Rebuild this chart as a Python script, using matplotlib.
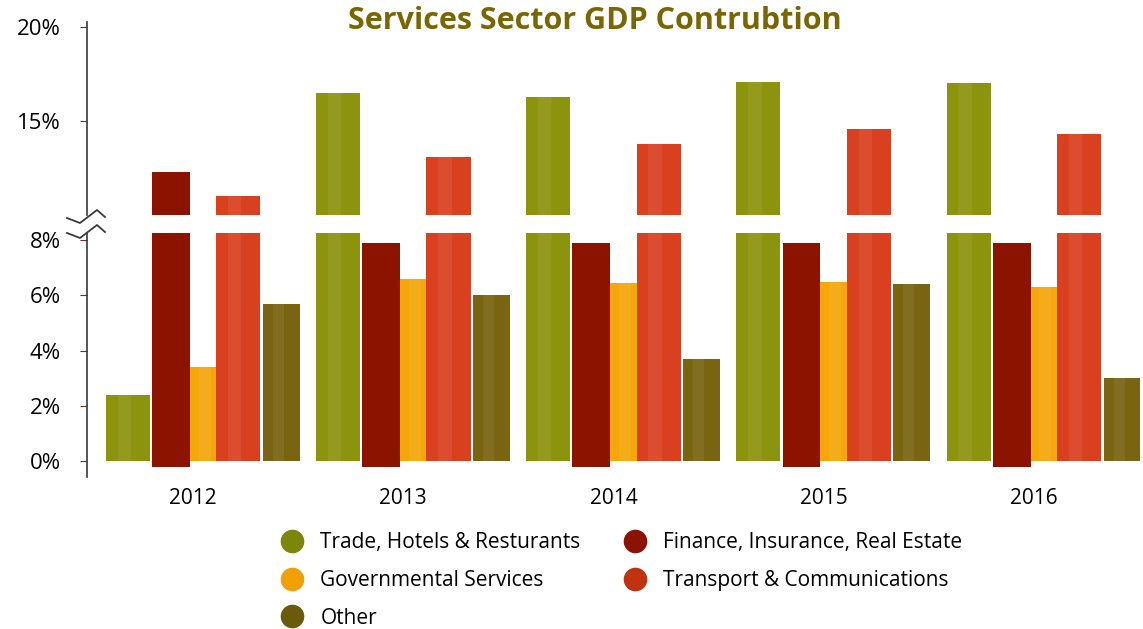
import numpy as np
import matplotlib.pyplot as plt
from matplotlib.lines import Line2D

plt.rcParams['font.family'] = ['Open Sans', 'DejaVu Sans']

years = ['2012', '2013', '2014', '2015', '2016']
series = ['Trade, Hotels & Resturants', 'Finance, Insurance, Real Estate',
          'Governmental Services', 'Transport & Communications', 'Other']
trade = [2.4, 16.5, 16.3, 17.1, 17.0]
finance = [12.3, 7.9, 7.9, 7.9, 7.9]
government = [3.4, 6.6, 6.45, 6.5, 6.3]
transport = [11.0, 13.1, 13.8, 14.6, 14.3]
other = [5.7, 6.0, 3.7, 6.4, 3.0]
values = [trade, finance, government, transport, other]

colors = ['#8c930c', '#8b1300', '#f5a60a', '#d9401f', '#786411']
legend_colors = ['#7b860b', '#8a1306', '#f0a005', '#c0330f', '#6b5a0c']
offsets = [-0.31, -0.105, 0.07, 0.215, 0.42]
widths = [0.21, 0.18, 0.19, 0.21, 0.175]
draw_order = [0, 2, 3, 4, 1]

W, H = 1143, 629
fig = plt.figure(figsize=(W / 100, H / 100), dpi=100)

def px_axes(x0, y_top, x1, y_bot):
    return fig.add_axes([x0 / W, 1 - y_bot / H, (x1 - x0) / W, (y_bot - y_top) / H])

ax_hi = px_axes(87, 22, W, 215)
ax_lo = px_axes(87, 233, W, 477)

x = np.arange(len(years))
for ax in (ax_hi, ax_lo):
    for i in draw_order:
        if i == 1:
            # finance bars sit slightly below the baseline, drawn in front
            ax.bar(x + offsets[i], np.array(values[i]) + 0.22, bottom=-0.22,
                   width=widths[i], color=colors[i], zorder=3)
        else:
            ax.bar(x + offsets[i], values[i], width=widths[i], color=colors[i], zorder=2)
            ax.bar(x + offsets[i] - widths[i] * 0.08, values[i], width=widths[i] * 0.3,
                   color='white', alpha=0.07, zorder=2.5)
    ax.set_xlim(-0.505, 4.52)
    for s in ['top', 'right', 'bottom']:
        ax.spines[s].set_visible(False)
    ax.spines['left'].set_color('#3a3a3a')
    ax.spines['left'].set_linewidth(1.2)
    ax.tick_params(axis='y', length=5, color='#6b2a2a', labelsize=16, pad=14)
    ax.set_facecolor('none')

ax_hi.set_ylim(10, 20.27)
ax_hi.set_yticks([15, 20])
ax_hi.set_yticklabels(['15%', '20%'])
ax_hi.set_xticks([])

ax_lo.set_ylim(-0.58, 8.26)
ax_lo.set_yticks([0, 2, 4, 6, 8])
ax_lo.set_yticklabels(['0%', '2%', '4%', '6%', '8%'])
ax_lo.set_xticks(x)
ax_lo.set_xticklabels(years, fontsize=15)
ax_lo.tick_params(axis='x', length=0, pad=8)

# axis break marks
def zig(y0):
    xs = np.array([67, 80, 97, 105])
    ys = np.array([y0 + 8, y0 + 13, y0, y0 + 7])
    fig.add_artist(Line2D(xs / W, 1 - ys / H, color='#3a3a3a', lw=1.3))
zig(210)
zig(225)

fig.text(595 / W, 1 - 21 / H, 'Services Sector GDP Contrubtion', ha='center', va='center',
         fontsize=22, fontweight='bold', color='#7a6600')

handles = [Line2D([], [], marker='o', ls='none', markersize=17,
                  markerfacecolor=c, markeredgecolor='none') for c in legend_colors]
order = [0, 2, 4, 1, 3]
fig.legend([handles[i] for i in order], [series[i] for i in order], ncol=2,
           loc='upper left', bbox_to_anchor=(263 / W, 1 - 524 / H), frameon=False,
           fontsize=15, handletextpad=0.35, columnspacing=1.6, labelspacing=0.8,
           borderaxespad=0)

fig.savefig('out.png', dpi=100)
